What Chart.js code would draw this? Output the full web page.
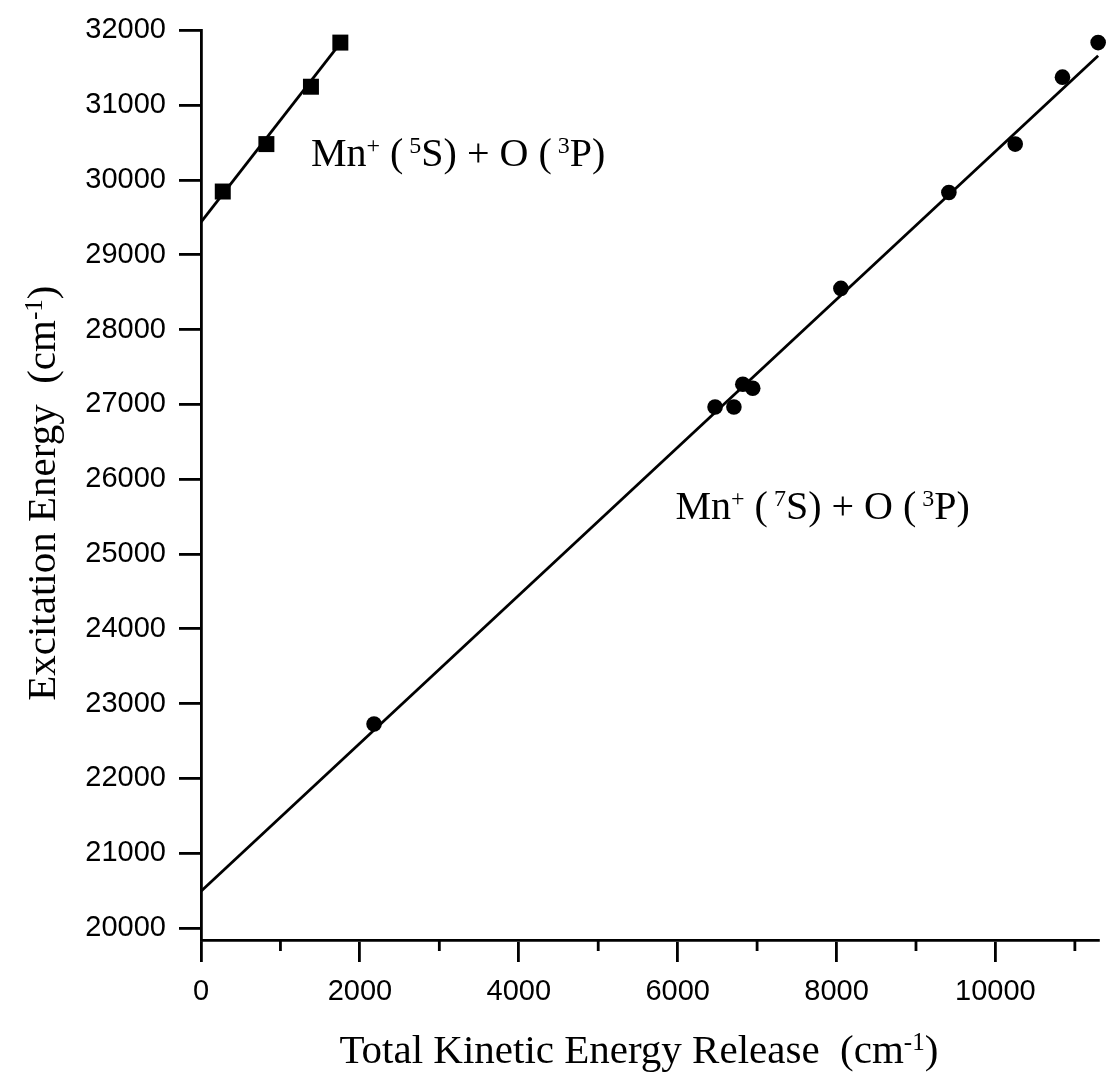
<!DOCTYPE html>
<html>
<head>
<meta charset="utf-8">
<script src="https://cdn.jsdelivr.net/npm/chart.js@4.4.1/dist/chart.umd.min.js"></script>
<style>
  body { margin: 0; background: #fff; }
  canvas { display: block; }
</style>
</head>
<body>
<canvas id="grafico" width="1110" height="1078"></canvas>
<script>
// dados
var xQuinteto = [274, 823, 1384, 1754];
var yQuinteto = [29846, 30480, 31247, 31837];
var xSepteto = [2178, 6471, 6708, 6820, 6945, 8055, 9414, 10249, 10844, 11293];
var ySepteto = [22727, 26965, 26965, 27269, 27216, 28551, 29833, 30480, 31375, 31837];
// retas ajustadas (pontos extremos)
var xRetaQuinteto = [0, 1754];
var yRetaQuinteto = [29436, 31830];
var xRetaSepteto = [0, 11293];
var yRetaSepteto = [20493, 31660];

var xTicks = [0, 2000, 4000, 6000, 8000, 10000];
var xTicksMenores = [1000, 3000, 5000, 7000, 9000, 11000];
var yTicks = [20000, 21000, 22000, 23000, 24000, 25000, 26000, 27000, 28000, 29000, 30000, 31000, 32000];

var tituloX = [{t: 'Total Kinetic Energy Release  (cm'}, {t: '-1', sup: true}, {t: ')'}];
var tituloY = [{t: 'Excitation Energy  (cm'}, {t: '-1', sup: true}, {t: ')'}];
var rotulo5S = [{t: 'Mn'}, {t: '+', sup: true}, {t: ' ('}, {t: ' 5', sup: true}, {t: 'S) + O ('}, {t: ' 3', sup: true}, {t: 'P)'}];
var rotulo7S = [{t: 'Mn'}, {t: '+', sup: true}, {t: ' ('}, {t: ' 7', sup: true}, {t: 'S) + O ('}, {t: ' 3', sup: true}, {t: 'P)'}];
var posRotulo5S = {x: 1384, y: 30190};
var posRotulo7S = {x: 5973, y: 25472};

function pares(xs, ys) {
  return xs.map(function (v, i) { return {x: v, y: ys[i]}; });
}

var FONTE_SERIF = '"Liberation Serif", "Times New Roman", serif';
var FONTE_SANS = '"Liberation Sans", Arial, sans-serif';

function larguraRica(ctx, partes, tam) {
  var w = 0;
  partes.forEach(function (p) {
    ctx.font = (p.sup ? Math.round(tam * 0.6) : tam) + 'px ' + FONTE_SERIF;
    w += ctx.measureText(p.t).width;
  });
  return w;
}

function textoRico(ctx, partes, x, y, tam) {
  ctx.textBaseline = 'alphabetic';
  ctx.textAlign = 'left';
  ctx.fillStyle = '#000';
  var cx = x;
  partes.forEach(function (p) {
    var t = p.sup ? Math.round(tam * 0.6) : tam;
    ctx.font = t + 'px ' + FONTE_SERIF;
    ctx.fillText(p.t, cx, p.sup ? y - tam * 0.32 : y);
    cx += ctx.measureText(p.t).width;
  });
}

var extras = {
  id: 'extras',
  afterDraw: function (chart) {
    var ctx = chart.ctx;
    var area = chart.chartArea;
    var sx = chart.scales.x, sy = chart.scales.y;
    ctx.save();
    // ticks menores do eixo x
    ctx.strokeStyle = '#000';
    ctx.lineWidth = 2.8;
    xTicksMenores.forEach(function (v) {
      var px = sx.getPixelForValue(v);
      ctx.beginPath();
      ctx.moveTo(px, area.bottom);
      ctx.lineTo(px, area.bottom + 11);
      ctx.stroke();
    });
    // titulos dos eixos
    var tam = 41;
    var w = larguraRica(ctx, tituloX, tam);
    textoRico(ctx, tituloX, (area.left + area.right) / 2 - 11 - w / 2, area.bottom + 123, tam);
    ctx.save();
    ctx.translate(area.left - 146, (area.top + area.bottom) / 2 + 8);
    ctx.rotate(-Math.PI / 2);
    w = larguraRica(ctx, tituloY, tam);
    textoRico(ctx, tituloY, -w / 2, 0, tam);
    ctx.restore();
    // rotulos das series
    tam = 40;
    textoRico(ctx, rotulo5S, sx.getPixelForValue(posRotulo5S.x), sy.getPixelForValue(posRotulo5S.y), tam);
    textoRico(ctx, rotulo7S, sx.getPixelForValue(posRotulo7S.x), sy.getPixelForValue(posRotulo7S.y), tam);
    ctx.restore();
  }
};

var eixoComum = {
  type: 'linear',
  grid: { drawOnChartArea: false, drawTicks: true, tickLength: 22, color: '#000', lineWidth: 2.8 },
  border: { display: true, color: '#000', width: 2.8 },
  ticks: {
    font: { family: FONTE_SANS, size: 29 }, color: '#000', padding: 13, maxRotation: 0, autoSkip: false,
    callback: function (valor) { return String(valor); }
  }
};

var grafico = new Chart(document.getElementById('grafico'), {
  type: 'scatter',
  data: {
    datasets: [
      { data: pares(xQuinteto, yQuinteto), pointStyle: 'rect', pointRadius: 11.3, backgroundColor: '#000', borderColor: '#000', borderWidth: 0, showLine: false, clip: false },
      { data: pares(xRetaQuinteto, yRetaQuinteto), showLine: true, pointRadius: 0, borderColor: '#000', borderWidth: 2.8, clip: false },
      { data: pares(xSepteto, ySepteto), pointStyle: 'circle', pointRadius: 7.8, backgroundColor: '#000', borderColor: '#000', borderWidth: 0, showLine: false, clip: false },
      { data: pares(xRetaSepteto, yRetaSepteto), showLine: true, pointRadius: 0, borderColor: '#000', borderWidth: 2.8, clip: false }
    ]
  },
  options: {
    responsive: false,
    animation: false,
    layout: { padding: { left: 0, right: 3, top: 21, bottom: 0 } },
    plugins: { legend: { display: false }, tooltip: { enabled: false } },
    scales: {
      x: Object.assign({}, eixoComum, {
        min: 0, max: 11300,
        afterBuildTicks: function (s) { s.ticks = xTicks.map(function (v) { return {value: v}; }); },
        afterFit: function (s) { s.height = 138; }
      }),
      y: Object.assign({}, eixoComum, {
        min: 19840, max: 32000,
        afterBuildTicks: function (s) { s.ticks = yTicks.map(function (v) { return {value: v}; }); },
        afterFit: function (s) { s.width = 201; }
      })
    }
  },
  plugins: [extras]
});
</script>
</body>
</html>
